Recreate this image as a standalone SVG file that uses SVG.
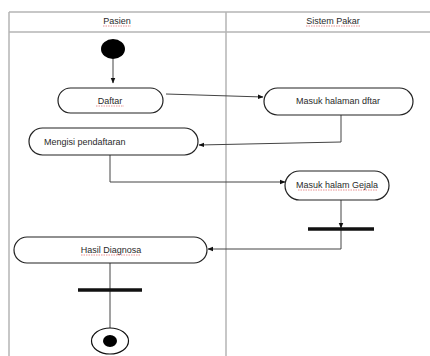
<svg xmlns="http://www.w3.org/2000/svg" width="430" height="356" viewBox="0 0 430 356">
<style>
.lane{stroke:#b4b4b4;stroke-width:1.5;fill:none}
.act{fill:#fff;stroke:#222;stroke-width:1.2}
.t{font-family:"Liberation Sans",Arial,sans-serif;font-size:9px;fill:#2a2a2a}
.c{text-anchor:middle}
.sq{stroke:#e06060;stroke-width:0.7;fill:none;stroke-dasharray:1.5 1}
.ln{stroke:#444;stroke-width:1;fill:none}
.bar{stroke:#111;stroke-width:3.5}
</style>
<defs>
<marker id="ah" viewBox="0 0 10 10" refX="9" refY="5" markerWidth="6" markerHeight="6" orient="auto-start-reverse">
<path d="M0,1 L10,5 L0,9 z" fill="#111"/>
</marker>
</defs>
<rect width="430" height="356" fill="#fff"/>
<g id="lanes">
<line class="lane" x1="9" y1="12" x2="430" y2="12"/>
<line class="lane" x1="9" y1="32" x2="430" y2="32"/>
<line class="lane" x1="9" y1="12" x2="9" y2="356"/>
<line class="lane" x1="226" y1="12" x2="226" y2="356"/>
<text class="t c" x="117" y="24">Pasien</text>
<path class="sq" d="M103,26 L131,26"/>
<text class="t c" x="333" y="24">Sistem Pakar</text>
<path class="sq" d="M306,26 L360,26"/>
</g>
<g id="connectors">
<line class="ln" x1="113" y1="59" x2="113" y2="83" marker-end="url(#ah)"/>
<line class="ln" x1="166" y1="94" x2="263" y2="97" marker-end="url(#ah)"/>
<polyline class="ln" points="341,115 341,142 199,145" marker-end="url(#ah)"/>
<polyline class="ln" points="110,155 110,182 285,182" marker-end="url(#ah)"/>
<line class="ln" x1="341" y1="200" x2="341" y2="228" marker-end="url(#ah)"/>
<polyline class="ln" points="341,229 341,249 208,249" marker-end="url(#ah)"/>
<line class="ln" x1="110" y1="263" x2="110" y2="334" marker-end="url(#ah)"/>
</g>
<g id="start"><ellipse cx="113" cy="49" rx="12" ry="10" fill="#000"/></g>
<g id="daftar">
<rect class="act" x="58" y="88" width="105" height="25" rx="12.5"/>
<text class="t c" x="110" y="104">Daftar</text>
<path class="sq" d="M96,106 L124,106"/>
</g>
<g id="masuk-halaman">
<rect class="act" x="264" y="88" width="149" height="27" rx="13.5"/>
<text class="t c" x="338" y="104">Masuk halaman dftar</text>
</g>
<g id="mengisi">
<rect class="act" x="29" y="128" width="169" height="27" rx="13.5"/>
<text class="t" x="44" y="145">Mengisi pendaftaran</text>
</g>
<g id="masuk-gejala">
<rect class="act" x="285" y="171" width="104" height="29" rx="14.5"/>
<text class="t c" x="337" y="188">Masuk halam Gejala</text>
<path class="sq" d="M298,190 L377,190"/>
</g>
<g id="fork1"><line class="bar" x1="308" y1="229" x2="374" y2="229"/></g>
<g id="hasil">
<rect class="act" x="14" y="237" width="193" height="26" rx="13"/>
<text class="t c" x="111" y="253">Hasil Diagnosa</text>
<path class="sq" d="M81,255 L141,255"/>
</g>
<g id="fork2"><line class="bar" x1="78" y1="290" x2="142" y2="290"/></g>
<g id="end">
<ellipse cx="110" cy="341" rx="18.5" ry="13" fill="#fff" stroke="#111" stroke-width="1.2"/>
<ellipse cx="110" cy="341" rx="7" ry="6" fill="#000"/>
</g>
</svg>
